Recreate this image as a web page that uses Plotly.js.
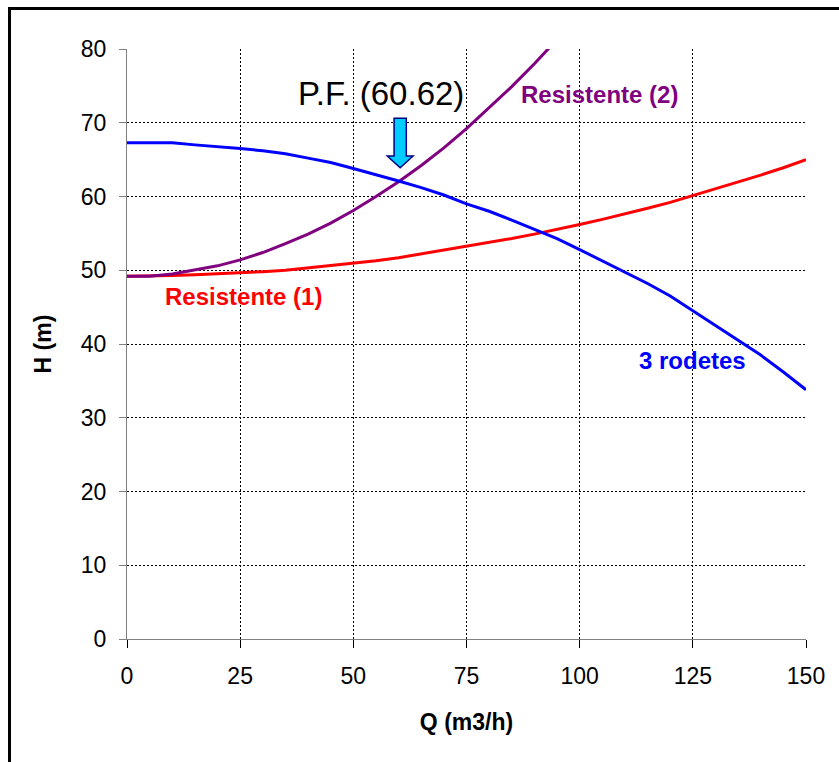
<!DOCTYPE html>
<html>
<head>
<meta charset="utf-8">
<script src="https://cdn.plot.ly/plotly-3.0.1.min.js"></script>
<style>
  html, body { margin: 0; padding: 0; background: #fff; overflow: hidden; }
  #chart { position: absolute; left: 0; top: 0; width: 839px; height: 762px; }
  #frame { position: absolute; left: 8px; top: 7px; width: 1000px; height: 1000px;
           border: 3px solid #000; pointer-events: none; }
</style>
</head>
<body>
<div id="chart"></div>
<div id="frame"></div>
<script>
// Flow Q (m3/h)
const qBomba = [0, 5, 10, 15, 20, 25, 30, 35, 40, 45, 50, 55, 60, 65, 70, 75, 80, 85, 90, 95, 100, 105, 110, 115, 120, 125, 130, 135, 140, 145, 150];
// 3 rodetes (pump curve)
const hBomba = [67.3, 67.3, 67.3, 67.0, 66.8, 66.5, 66.2, 65.8, 65.2, 64.6, 63.8, 63.0, 62.1, 61.2, 60.2, 59.0, 58.0, 56.8, 55.5, 54.3, 52.8, 51.3, 49.8, 48.2, 46.5, 44.5, 42.5, 40.5, 38.5, 36.2, 33.8];

const qRes1 = [0, 5, 10, 15, 20, 25, 30, 35, 40, 45, 50, 55, 60, 65, 70, 75, 80, 85, 90, 95, 100, 105, 110, 115, 120, 125, 130, 135, 140, 145, 150];
const hRes1 = [49.2, 49.2, 49.3, 49.4, 49.5, 49.6, 49.8, 50.0, 50.3, 50.6, 51.0, 51.3, 51.7, 52.2, 52.7, 53.2, 53.7, 54.3, 54.9, 55.5, 56.2, 56.9, 57.6, 58.4, 59.2, 60.1, 61.0, 61.9, 62.9, 63.9, 65.0];

const qRes2 = [0, 5, 10, 15, 20, 25, 30, 35, 40, 45, 50, 55, 60, 65, 70, 75, 80, 85, 90, 95];
const hRes2 = [49.2, 49.2, 49.5, 50.0, 50.6, 51.4, 52.4, 53.6, 54.9, 56.4, 58.1, 60.0, 62.0, 64.2, 66.6, 69.2, 72.0, 74.9, 78.0, 81.3];

const xTicks = [0, 25, 50, 75, 100, 125, 150];
const yTicks = [0, 10, 20, 30, 40, 50, 60, 70, 80];

const FONT = 'Liberation Sans, Arial, sans-serif';

const traces = [
  { x: qRes1, y: hRes1, mode: 'lines', name: 'Resistente (1)', line: { color: '#FF0000', width: 3 } },
  { x: qRes2, y: hRes2, mode: 'lines', name: 'Resistente (2)', line: { color: '#800080', width: 3 } },
  { x: qBomba, y: hBomba, mode: 'lines', name: '3 rodetes', line: { color: '#0000FF', width: 3 } }
];

const layout = {
  width: 839, height: 762,
  margin: { l: 127, r: 33, t: 49, b: 123 },
  paper_bgcolor: 'rgba(0,0,0,0)',
  plot_bgcolor: 'rgba(0,0,0,0)',
  showlegend: false,
  font: { family: FONT, color: '#000', size: 23 },
  xaxis: {
    range: [0, 150], tickvals: xTicks, ticktext: xTicks.map(String),
    showgrid: true, gridcolor: '#000', griddash: '2px,2px', gridwidth: 1,
    zeroline: false, showline: true, linecolor: '#808080', linewidth: 1,
    ticks: 'outside', ticklen: 8, tickcolor: '#000', tickwidth: 1,
    ticklabelstandoff: 8,
    tickfont: { family: FONT, size: 23, color: '#000' },
    title: { text: 'Q (m3/h)', font: { family: FONT, size: 23, color: '#000', weight: 'bold' }, standoff: 26 }
  },
  yaxis: {
    range: [0, 80], tickvals: yTicks, ticktext: yTicks.map(String),
    showgrid: true, gridcolor: '#000', griddash: '2px,2px', gridwidth: 1,
    zeroline: false, showline: true, linecolor: '#808080', linewidth: 1,
    ticks: 'outside', ticklen: 7, tickcolor: '#808080', tickwidth: 1,
    ticklabelstandoff: 8,
    tickfont: { family: FONT, size: 23, color: '#000' },
    title: { text: 'H (m)', font: { family: FONT, size: 23, color: '#000', weight: 'bold' }, standoff: 22 }
  },
  annotations: [
    { x: 56.1, y: 73.9, xref: 'x', yref: 'y', text: 'P.F. (60.62)', showarrow: false,
      font: { family: FONT, size: 33, color: '#000' } },
    { x: 104.3, y: 73.8, xref: 'x', yref: 'y', text: '<b>Resistente (2)</b>', showarrow: false,
      font: { family: FONT, size: 24, color: '#800080' } },
    { x: 25.8, y: 46.4, xref: 'x', yref: 'y', text: '<b>Resistente (1)</b>', showarrow: false,
      font: { family: FONT, size: 24, color: '#FF0000' } },
    { x: 125.0, y: 37.7, xref: 'x', yref: 'y', text: '<b>3 rodetes</b>', showarrow: false,
      font: { family: FONT, size: 24, color: '#0000FF' } }
  ],
  shapes: [
    { type: 'path', xref: 'x', yref: 'y',
      path: 'M 59.0 70.6 L 61.7 70.6 L 61.7 65.5 L 63.2 65.5 L 60.35 63.9 L 57.5 65.5 L 59.0 65.5 Z',
      fillcolor: '#00CCFF', line: { color: '#000080', width: 1.5 } }
  ]
};

Plotly.newPlot('chart', traces, layout, { displayModeBar: false, staticPlot: true });
</script>
</body>
</html>
